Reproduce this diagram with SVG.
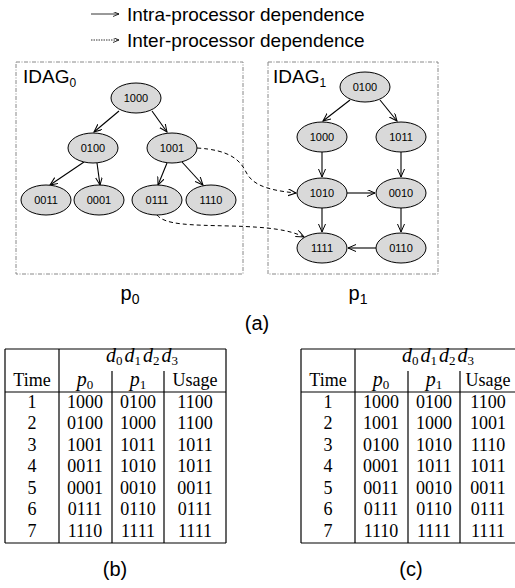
<svg xmlns="http://www.w3.org/2000/svg" width="515" height="588" viewBox="0 0 515 588">
<style>
.lg{font-family:"Liberation Sans",Arial,sans-serif;font-size:19px;fill:#000}
.nd ellipse{fill:#d9d9d9;stroke:#000;stroke-width:1}
.nd text{font-family:"Liberation Sans",Arial,sans-serif;font-size:11px;text-anchor:middle;fill:#000}
.box{fill:none;stroke:#888;stroke-width:1;stroke-dasharray:4,1.5,1,1.5}
.e{fill:none;stroke:#000;stroke-width:1.1;marker-end:url(#ah)}
.d{fill:none;stroke:#000;stroke-width:1;stroke-dasharray:4,3;marker-end:url(#ah)}
.t{font-family:"Liberation Serif","Times New Roman",serif;font-size:18px;text-anchor:middle;fill:#000}
.m{font-family:"Liberation Serif","Times New Roman",serif;font-size:20px;font-style:italic;text-anchor:middle;fill:#000}
.s{font-size:13px;font-style:normal}
.tl{stroke:#000;stroke-width:1.2}
.cap{font-family:"Liberation Sans",Arial,sans-serif;font-size:20px;text-anchor:middle;fill:#000}
</style>
<defs>
<marker id="ah" markerWidth="9" markerHeight="8" refX="8" refY="3.5" orient="auto" markerUnits="userSpaceOnUse">
<path d="M0,0 L8,3.5 L0,7" fill="none" stroke="#000" stroke-width="1"/>
</marker>
<marker id="ahs" markerWidth="7" markerHeight="6" refX="6" refY="2.5" orient="auto" markerUnits="userSpaceOnUse">
<path d="M0,0 L6,2.5 L0,5" fill="none" stroke="#000" stroke-width="0.8"/>
</marker>
</defs>

<g id="legend">
<line x1="91" y1="14" x2="119" y2="14" stroke="#000" stroke-width="0.8" marker-end="url(#ahs)"/>
<text class="lg" x="127" y="20.5">Intra-processor dependence</text>
<line x1="91" y1="40" x2="119" y2="40" stroke="#000" stroke-width="0.8" stroke-dasharray="1.5,1" marker-end="url(#ahs)"/>
<text class="lg" x="127" y="46.5">Inter-processor dependence</text>
</g>

<g id="idag0">
<rect class="box" x="16" y="62" width="227" height="212"/>
<text class="lg" x="23" y="83" font-size="18">IDAG<tspan font-size="12" dy="4">0</tspan></text>
</g>
<g id="idag1">
<rect class="box" x="268" y="62" width="170" height="212"/>
<text class="lg" x="273" y="83" font-size="18">IDAG<tspan font-size="12" dy="4">1</tspan></text>
</g>

<g id="connectors">
<path class="e" d="M119,111 L94,132"/>
<path class="e" d="M152,111 L167,132"/>
<path class="e" d="M84,162 L50,185"/>
<path class="e" d="M97,163 L100,185"/>
<path class="e" d="M167,163 L158,185"/>
<path class="e" d="M182,162 L203,185"/>
<path class="e" d="M350,100 L323,121"/>
<path class="e" d="M380,100 L397,121"/>
<path class="e" d="M322,152 L322,177"/>
<path class="e" d="M401,152 L401,177"/>
<path class="e" d="M347,193 L375,193"/>
<path class="e" d="M322,208 L322,232"/>
<path class="e" d="M401,208 L401,232"/>
<path class="e" d="M376,248 L348,248"/>
<path class="d" d="M197,148 C230,150 240,160 246,172 S265,190 296,193"/>
<path class="d" d="M157,215 C165,225 190,225 230,226 C270,227 290,230 304,237"/>
</g>

<g id="n0_1000" class="nd"><ellipse cx="136" cy="98" rx="25" ry="15"/><text x="136" y="102">1000</text></g>
<g id="n0_0100" class="nd"><ellipse cx="93" cy="148" rx="25" ry="15"/><text x="93" y="152">0100</text></g>
<g id="n0_1001" class="nd"><ellipse cx="172" cy="148" rx="25" ry="15"/><text x="172" y="152">1001</text></g>
<g id="n0_0011" class="nd"><ellipse cx="46" cy="200" rx="25" ry="15"/><text x="46" y="204">0011</text></g>
<g id="n0_0001" class="nd"><ellipse cx="99" cy="200" rx="25" ry="15"/><text x="99" y="204">0001</text></g>
<g id="n0_0111" class="nd"><ellipse cx="157" cy="200" rx="25" ry="15"/><text x="157" y="204">0111</text></g>
<g id="n0_1110" class="nd"><ellipse cx="211" cy="200" rx="25" ry="15"/><text x="211" y="204">1110</text></g>

<g id="n1_0100" class="nd"><ellipse cx="365" cy="87" rx="25" ry="15"/><text x="365" y="91">0100</text></g>
<g id="n1_1000" class="nd"><ellipse cx="322" cy="137" rx="25" ry="15"/><text x="322" y="141">1000</text></g>
<g id="n1_1011" class="nd"><ellipse cx="401" cy="137" rx="25" ry="15"/><text x="401" y="141">1011</text></g>
<g id="n1_1010" class="nd"><ellipse cx="322" cy="193" rx="25" ry="15"/><text x="322" y="197">1010</text></g>
<g id="n1_0010" class="nd"><ellipse cx="401" cy="193" rx="25" ry="15"/><text x="401" y="197">0010</text></g>
<g id="n1_1111" class="nd"><ellipse cx="322" cy="248" rx="25" ry="15"/><text x="322" y="252">1111</text></g>
<g id="n1_0110" class="nd"><ellipse cx="401" cy="248" rx="25" ry="15"/><text x="401" y="252">0110</text></g>

<g id="labels">
<text class="cap" x="130" y="300" font-size="22">p<tspan font-size="14" dy="4">0</tspan></text>
<text class="cap" x="358" y="300" font-size="22">p<tspan font-size="14" dy="4">1</tspan></text>
<text class="cap" x="257" y="330">(a)</text>
<text class="cap" x="115" y="576">(b)</text>
<text class="cap" x="411" y="576">(c)</text>
</g>

<g id="tableB">
<line class="tl" x1="5" y1="349" x2="226" y2="349"/>
<line class="tl" x1="5" y1="392" x2="226" y2="392"/>
<line class="tl" x1="5" y1="543" x2="226" y2="543"/>
<line class="tl" x1="5" y1="349" x2="5" y2="543"/>
<line class="tl" x1="226" y1="349" x2="226" y2="543"/>
<line class="tl" x1="59" y1="349" x2="59" y2="543"/>
<line class="tl" x1="112" y1="371" x2="112" y2="543"/>
<line class="tl" x1="164" y1="371" x2="164" y2="543"/>
<text class="m" x="142" y="362">d<tspan class="s" dy="2.5">0</tspan><tspan dx="2" dy="-2.5">d</tspan><tspan class="s" dy="2.5">1</tspan><tspan dx="2" dy="-2.5">d</tspan><tspan class="s" dy="2.5">2</tspan><tspan dx="2" dy="-2.5">d</tspan><tspan class="s" dy="2.5">3</tspan></text>
<text class="t" x="32" y="386">Time</text>
<text class="m" x="85" y="386" font-size="19">p<tspan class="s" dy="2.5">0</tspan></text>
<text class="m" x="138" y="386" font-size="19">p<tspan class="s" dy="2.5">1</tspan></text>
<text class="t" x="195" y="386">Usage</text>
<text class="t" y="407.5"><tspan x="32">1</tspan><tspan x="85">1000</tspan><tspan x="138">0100</tspan><tspan x="195">1100</tspan></text>
<text class="t" y="429"><tspan x="32">2</tspan><tspan x="85">0100</tspan><tspan x="138">1000</tspan><tspan x="195">1100</tspan></text>
<text class="t" y="450.5"><tspan x="32">3</tspan><tspan x="85">1001</tspan><tspan x="138">1011</tspan><tspan x="195">1011</tspan></text>
<text class="t" y="472"><tspan x="32">4</tspan><tspan x="85">0011</tspan><tspan x="138">1010</tspan><tspan x="195">1011</tspan></text>
<text class="t" y="493.5"><tspan x="32">5</tspan><tspan x="85">0001</tspan><tspan x="138">0010</tspan><tspan x="195">0011</tspan></text>
<text class="t" y="515"><tspan x="32">6</tspan><tspan x="85">0111</tspan><tspan x="138">0110</tspan><tspan x="195">0111</tspan></text>
<text class="t" y="536.5"><tspan x="32">7</tspan><tspan x="85">1110</tspan><tspan x="138">1111</tspan><tspan x="195">1111</tspan></text>
</g>

<g id="tableC">
<line class="tl" x1="301" y1="349" x2="522" y2="349"/>
<line class="tl" x1="301" y1="392" x2="522" y2="392"/>
<line class="tl" x1="301" y1="543" x2="522" y2="543"/>
<line class="tl" x1="301" y1="349" x2="301" y2="543"/>
<line class="tl" x1="355" y1="349" x2="355" y2="543"/>
<line class="tl" x1="408" y1="371" x2="408" y2="543"/>
<line class="tl" x1="460" y1="371" x2="460" y2="543"/>
<text class="m" x="438" y="362">d<tspan class="s" dy="2.5">0</tspan><tspan dx="2" dy="-2.5">d</tspan><tspan class="s" dy="2.5">1</tspan><tspan dx="2" dy="-2.5">d</tspan><tspan class="s" dy="2.5">2</tspan><tspan dx="2" dy="-2.5">d</tspan><tspan class="s" dy="2.5">3</tspan></text>
<text class="t" x="328" y="386">Time</text>
<text class="m" x="381" y="386" font-size="19">p<tspan class="s" dy="2.5">0</tspan></text>
<text class="m" x="434" y="386" font-size="19">p<tspan class="s" dy="2.5">1</tspan></text>
<text class="t" x="488" y="386">Usage</text>
<text class="t" y="407.5"><tspan x="328">1</tspan><tspan x="381">1000</tspan><tspan x="434">0100</tspan><tspan x="488">1100</tspan></text>
<text class="t" y="429"><tspan x="328">2</tspan><tspan x="381">1001</tspan><tspan x="434">1000</tspan><tspan x="488">1001</tspan></text>
<text class="t" y="450.5"><tspan x="328">3</tspan><tspan x="381">0100</tspan><tspan x="434">1010</tspan><tspan x="488">1110</tspan></text>
<text class="t" y="472"><tspan x="328">4</tspan><tspan x="381">0001</tspan><tspan x="434">1011</tspan><tspan x="488">1011</tspan></text>
<text class="t" y="493.5"><tspan x="328">5</tspan><tspan x="381">0011</tspan><tspan x="434">0010</tspan><tspan x="488">0011</tspan></text>
<text class="t" y="515"><tspan x="328">6</tspan><tspan x="381">0111</tspan><tspan x="434">0110</tspan><tspan x="488">0111</tspan></text>
<text class="t" y="536.5"><tspan x="328">7</tspan><tspan x="381">1110</tspan><tspan x="434">1111</tspan><tspan x="488">1111</tspan></text>
</g>
</svg>
